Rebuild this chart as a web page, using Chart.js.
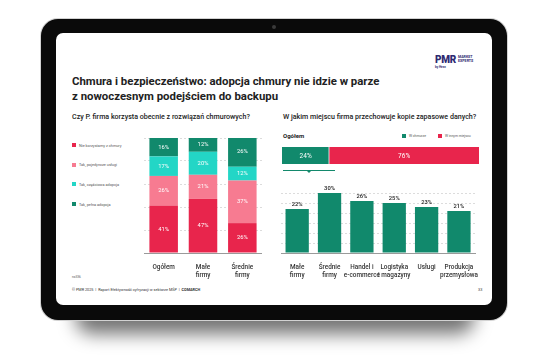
<!DOCTYPE html>
<html>
<head>
<meta charset="utf-8">
<script src="https://cdn.jsdelivr.net/npm/chart.js@4.4.1/dist/chart.umd.min.js"></script>
<style>
  body { margin: 0; width: 546px; height: 362px; background: #fff; position: relative; overflow: hidden; font-family: Roboto, "Noto Sans", sans-serif; }
  .abs { position: absolute; }
  .shadow { left: 75px; top: 298px; width: 400px; height: 36px; background: rgba(0,0,0,0.55); filter: blur(9px); border-radius: 30px; }
  .tablet { left: 41px; top: 19px; width: 466px; height: 301px; background: #0a0a0a; border-radius: 17px; box-shadow: 0 0 0 1px #d2d2d2; }
  .screen { left: 56px; top: 33px; width: 436px; height: 272px; background: #fff; border-radius: 7px; }
  .cam { left: 272px; top: 25px; width: 4px; height: 4px; border-radius: 50%; background: #3a3a3a; }
  .title { left: 72px; top: 74px; font-size: 11.4px; line-height: 15px; font-weight: 700; color: #222; white-space: nowrap; }
  .sub { top: 112px; font-size: 7.1px; font-weight: 500; color: #222; white-space: nowrap; }
  .tiny { font-size: 3.8px; color: #555; white-space: nowrap; }
  .legend-item { display: flex; align-items: center; }
  .legend-item span.box { display: inline-block; width: 4px; height: 4px; margin-right: 3px; }
  canvas { position: absolute; }
</style>
</head>
<body>
<div class="abs shadow"></div>
<div class="abs tablet"></div>
<div class="abs cam"></div>
<div class="abs screen"></div>

<div class="abs" style="left:435px;top:54px;font-size:10px;font-weight:900;color:#2e2a72;letter-spacing:-0.3px;">PMR</div>
<div class="abs" style="left:458px;top:56px;font-size:3.6px;line-height:3.8px;font-weight:700;color:#2e2a72;">MARKET<br>EXPERTS</div>
<div class="abs" style="left:435px;top:65px;font-size:3px;font-weight:700;color:#2e2a72;">by Hexx</div>

<div class="abs title">Chmura i bezpieczeństwo: adopcja chmury nie idzie w parze<br>z nowoczesnym podejściem do backupu</div>
<div class="abs sub" style="left:72px;">Czy P. firma korzysta obecnie z rozwiązań chmurowych?</div>
<div class="abs sub" style="left:283px;">W jakim miejscu firma przechowuje kopie zapasowe danych?</div>

<div id="leftLegend" class="abs" style="left:72px;top:143px;"></div>
<div class="abs" style="left:283px;top:132px;font-size:6px;font-weight:700;color:#222;">Ogółem</div>
<div id="rightLegend" class="abs" style="left:402px;top:134px;display:flex;"></div>

<canvas id="cloudUse" width="118" height="150" style="left:144px;top:130px;"></canvas>
<canvas id="storageTotal" width="197" height="17" style="left:282px;top:147px;"></canvas>
<div class="abs" style="left:283px;top:170px;width:52px;height:1px;background:#13896c;"></div>
<div class="abs" style="left:307px;top:171px;width:0;height:0;border-left:2px solid transparent;border-right:2px solid transparent;border-top:2px solid #13896c;"></div>
<canvas id="storageSegments" width="200" height="102" style="left:281px;top:178px;"></canvas>

<div class="abs tiny" style="left:72px;top:275px;font-size:3.2px;">n=336</div>
<div class="abs tiny" style="left:72px;top:287px;color:#333;">© PMR 2025 &nbsp;|&nbsp; Raport Efektywność cyfryzacji w sektorze MŚP &nbsp;|&nbsp; <b>COMARCH</b></div>
<div class="abs tiny" style="left:478px;top:287px;color:#333;">33</div>

<script>
// left chart: cloud adoption
const leftCategories = [['Ogółem'], ['Małe', 'firmy'], ['Średnie', 'firmy']];
const leftSeriesLabels = ['Nie korzystamy z chmury', 'Tak, pojedyncze usługi', 'Tak, częściowa adopcja', 'Tak, pełna adopcja'];
const noCloud = [41, 47, 26];
const singleServices = [26, 21, 37];
const partialAdoption = [17, 20, 12];
const fullAdoption = [16, 12, 26];
const leftColors = ['#e8254c', '#f77b91', '#23d6c6', '#11896c'];

// right charts: where backups are stored
const storageLabels = ['W chmurze', 'W innym miejscu'];
const storageOverall = [24, 76];
const storageColors = ['#11896c', '#e8254c'];
const segmentLabels = [['Małe', 'firmy'], ['Średnie', 'firmy'], ['Handel i', 'e-commerce'], ['Logistyka', 'i magazyny'], ['Usługi'], ['Produkcja', 'przemysłowa']];
const cloudBySegment = [22, 30, 26, 25, 23, 21];

const FONT = 'Roboto, "Noto Sans", sans-serif';

// html legends built from the same arrays
document.getElementById('leftLegend').innerHTML = leftSeriesLabels.map((l, i) =>
  `<div class="legend-item tiny" style="height:4px;margin-bottom:15.7px;"><span class="box" style="background:${leftColors[i]}"></span>${l}</div>`).join('');
document.getElementById('rightLegend').innerHTML = storageLabels.map((l, i) =>
  `<div class="legend-item tiny" style="margin-right:${i ? 0 : 12}px;font-size:3.4px;"><span class="box" style="background:${storageColors[i]}"></span>${l}</div>`).join('');

// draws the % values on bars
const valueLabels = {
  id: 'valueLabels',
  afterDatasetsDraw(chart, args, opts) {
    const ctx = chart.ctx;
    ctx.save();
    ctx.font = opts.font;
    ctx.fillStyle = opts.color;
    ctx.textAlign = 'center';
    chart.data.datasets.forEach((ds, i) => {
      chart.getDatasetMeta(i).data.forEach((el, j) => {
        const p = el.getProps(['x', 'y', 'base'], true);
        const txt = ds.data[j] + '%';
        if (opts.mode === 'above') {
          ctx.textBaseline = 'bottom';
          ctx.fillText(txt, p.x, p.y - 2);
        } else if (opts.mode === 'hinside') {
          ctx.textBaseline = 'middle';
          ctx.fillText(txt, (p.x + p.base) / 2, p.y + 0.5);
        } else {
          ctx.textBaseline = 'middle';
          ctx.fillText(txt, p.x, (p.y + p.base) / 2);
        }
      });
    });
    ctx.restore();
  }
};

const gridY = (max, step) => ({
  min: 0, max: max,
  ticks: { display: false, stepSize: step },
  grid: { color: '#dcdcdc', drawTicks: false },
  border: { display: false, dash: [2, 2] },
  afterFit: s => { s.width = 0; }
});
const baseX = {
  grid: { display: false },
  border: { color: '#9a9a9a', width: 1 },
  ticks: { color: '#333', font: { family: FONT, size: 6.4, weight: 500, lineHeight: 1.2 }, padding: 3, maxRotation: 0, autoSkip: false },
  afterFit: s => { s.height = 27; }
};

new Chart(document.getElementById('cloudUse'), {
  type: 'bar',
  data: {
    labels: leftCategories,
    datasets: [noCloud, singleServices, partialAdoption, fullAdoption].map((d, i) => ({
      label: leftSeriesLabels[i], data: d, backgroundColor: leftColors[i],
      barPercentage: 0.725, categoryPercentage: 1
    }))
  },
  options: {
    responsive: false, animation: false,
    layout: { padding: { top: 8, left: 0, right: 0, bottom: 0 } },
    scales: {
      x: Object.assign({ stacked: true }, baseX),
      y: Object.assign({ stacked: true }, gridY(100, 20))
    },
    plugins: {
      legend: { display: false }, tooltip: { enabled: false },
      valueLabels: { mode: 'inside', font: `400 5.8px ${FONT}`, color: '#fff' }
    }
  },
  plugins: [valueLabels]
});

new Chart(document.getElementById('storageTotal'), {
  type: 'bar',
  data: {
    labels: ['Ogółem'],
    datasets: storageOverall.map((v, i) => ({
      label: storageLabels[i], data: [v], backgroundColor: storageColors[i],
      borderColor: '#fff', borderWidth: i ? 0 : { top: 0, right: 1, bottom: 0, left: 0 }, borderSkipped: false,
      barPercentage: 1, categoryPercentage: 1
    }))
  },
  options: {
    indexAxis: 'y', responsive: false, animation: false,
    layout: { padding: 0 },
    scales: {
      x: { stacked: true, min: 0, max: 100, display: false },
      y: { stacked: true, display: false }
    },
    plugins: {
      legend: { display: false }, tooltip: { enabled: false },
      valueLabels: { mode: 'hinside', font: `400 6.5px ${FONT}`, color: '#fff' }
    }
  },
  plugins: [valueLabels]
});

new Chart(document.getElementById('storageSegments'), {
  type: 'bar',
  data: {
    labels: segmentLabels,
    datasets: [{
      label: storageLabels[0], data: cloudBySegment, backgroundColor: storageColors[0],
      barPercentage: 0.72, categoryPercentage: 1
    }]
  },
  options: {
    responsive: false, animation: false,
    layout: { padding: { top: 15, left: 0, right: 0, bottom: 0 } },
    scales: {
      x: baseX,
      y: gridY(30, 5)
    },
    plugins: {
      legend: { display: false }, tooltip: { enabled: false },
      valueLabels: { mode: 'above', font: `500 5.8px ${FONT}`, color: '#222' }
    }
  },
  plugins: [valueLabels]
});
</script>
</body>
</html>
